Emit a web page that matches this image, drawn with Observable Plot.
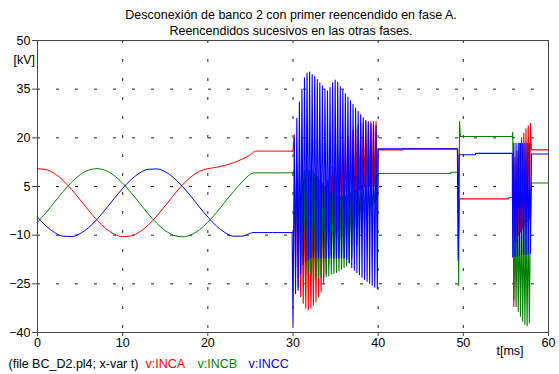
<!DOCTYPE html>
<html><head><meta charset="utf-8">
<script src="https://cdn.jsdelivr.net/npm/d3@7"></script>
<script src="https://cdn.jsdelivr.net/npm/@observablehq/plot@0.6"></script>
<style>body{margin:0;background:#fff} svg{display:block}</style>
</head><body><div id="chart"></div>
<script>
// ---- Text / ticks ----
const titleLines = ["Desconexión de banco 2 con primer reencendido en fase A.", "Reencendidos sucesivos en las otras fases."];
const captionFile = "(file BC_D2.pl4; x-var t)";
const seriesNames = ["v:INCA", "v:INCB", "v:INCC"];
const seriesColors = ["#ff0000", "#008000", "#0000ff"];
const xTicks = [0, 10, 20, 30, 40, 50, 60];
const yTicks = [-40, -25, -10, 5, 20, 35, 50];
const yUnit = "[kV]";
const xUnit = "t[ms]";

// ---- Pre-fault sinusoidal section (t in ms, values in kV) ----
const tSmooth = [0,1,2,3,4,5,6,7,8,9,10,11,12,13,14,15,16,17,18,19,20,21,22,23,24,25];
const redSmooth = [10.46,10.23,9.00,6.89,4.10,0.92,-2.36,-5.41,-7.92,-9.67,-10.46,-10.23,-9.00,-6.89,-4.10,-0.92,2.36,5.41,7.92,9.67,10.5,10.9,11.5,12.3,13.4,14.8];
const greenSmooth = [-6.02,-3.07,0.18,3.42,6.32,8.60,10.04,10.50,9.93,8.39,6.02,3.07,-0.18,-3.42,-6.32,-8.60,-10.04,-10.50,-9.93,-8.39,-6.02,-3.07,0.18,3.42,6.32,8.8];
const blueSmooth = [-4.44,-7.16,-9.18,-10.31,-10.42,-9.52,-7.68,-5.09,-2.00,1.28,4.44,7.16,9.18,10.31,10.42,9.52,7.68,5.09,2.00,-1.28,-4.44,-7.16,-9.18,-10.31,-10.3,-9.4];
const redHoldT = [25.6, 29.9], redHoldV = [15.9, 15.9];
const greenHoldT = [25.4, 29.9], greenHoldV = [9.2, 9.2];
const blueHoldT = [25.3, 29.9], blueHoldV = [-9.2, -9.2];

// ---- First re-strike burst (30–40 ms) ----
const b1T = [30.0,30.15,30.3,30.45,30.6,30.75,30.9,31.05,31.2,31.35,31.5,31.65,31.8,31.95,32.1,32.25,32.4,32.55,32.7,32.85,33.0,33.15,33.3,33.45,33.6,33.75,33.9,34.05,34.2,34.35,34.5,34.65,34.8,34.95,35.1,35.25,35.4,35.55,35.7,35.85,36.0,36.15,36.3,36.45,36.6,36.75,36.9,37.05,37.2,37.35,37.5,37.65,37.8,37.95,38.1,38.25,38.4,38.55,38.7,38.85,39.0,39.15,39.3,39.45,39.6,39.75,39.9];
const b1Red = [15.9,21,-20,12,-26,6,-29,2,-31,0,-32.5,-1,-33,-2,-32.5,-2,-31.5,-1,-30.5,0,-29,1,-27.5,3,-25,5,-22,7,-19,9,-16,11,-13,13,-10,15,-8,17,-6,18,-4,19.5,-2,20.5,0,21.5,1,22.5,2,23.3,3,24,4,24.5,4.5,24.8,5,25,5,25,5,25,5,25,5,25,5];
const b1Green = [9.2,10,-10,9,-14,9,-17,10,-19,10,-20.5,10,-21.5,10,-22,10,-22.5,9,-23,8,-23,7,-23,6,-23,5,-22.8,4,-22.5,3.5,-22,3,-21.8,2.5,-21.5,2,-21,2,-20.5,2,-20,2,-19.5,2.5,-18.5,3,-17,3.5,-15,4,-13,4.5,-11,5,-9,5,-7,5,-5,5,-3,5,-1.5,5,0,5,0.8];
const b1Blue = [-37.6,20,-28,26,-27,31,-22,35,-19,38.5,-18,40,-17.5,40.3,-17,39.5,-17,39,-17,38,-17,37,-17,36,-17,35,-17,34.5,-17,35.5,-17,37,-17,37.8,-17,37.2,-17,35.8,-17,34.8,-17,33.6,-17.5,32.6,-18.5,31.4,-20,30.3,-20.8,29.2,-21.5,28.2,-22.2,27.2,-23,26.2,-23.6,25.3,-24.2,24.7,-24.8,24.3,-25.4,24.0,-26,23.7,-26.4];

// ---- Between bursts (incl. spike near 49 ms) ----
const redMidT = [40.0,42.9,42.95,49.35,49.45,49.55,55.3,55.35,55.75];
const redMidV = [16.3,16.3,16.6,16.6,-10.6,1.2,1.2,1.6,1.6];
const greenMidT = [40.0,48.5,48.55,49.35,49.45,49.55,49.65,55.75];
const greenMidV = [9.0,9.0,9.4,9.4,-25.4,25.0,20.4,20.4];
const blueMidT = [40.0,49.3,49.4,49.5,51.4,51.45,55.75];
const blueMidV = [16.6,16.6,-17.7,14.8,14.8,15.2,15.2];

// ---- Second burst (≈56–58 ms) ----
const b2T = [55.8,55.93,56.06,56.19,56.32,56.45,56.58,56.71,56.84,56.97,57.1,57.23,57.36,57.49,57.62,57.75,57.88];
const b2Red = [12,-32,14,-12,16,-10,18.3,-9,20,-8,21.5,-7,22.8,-6,23.7,-5,24.4];
const b2Green = [21.7,-30,-5,-32,-5,-33.5,-5,-35,-5,-36.5,-5,-37.5,-5,-38,-5,-37,-5];
const b2Blue = [-16.7,18.3,-16.6,18.3,-16.4,18.3,-16.3,18.3,-16.1,18.3,-16.0,18.3,-15.9,18.3,-15.8,18.3,-15.6];

// ---- Final levels ----
const endT = [58.0, 60];
const redEndV = [16.3, 16.3];
const greenEndV = [6.1, 6.1];
const blueEndV = [15.0, 15.0];

// ---- Build tables ----
const rows = (ts, vs) => ts.map((t, i) => ({t, v: vs[i]}));
const smooth = [
  [...rows(tSmooth, redSmooth), ...rows(redHoldT, redHoldV)],
  [...rows(tSmooth, greenSmooth), ...rows(greenHoldT, greenHoldV)],
  [...rows(tSmooth, blueSmooth), ...rows(blueHoldT, blueHoldV)]
];
const linear = [
  [...rows([redHoldT[1]], [redHoldV[1]]), ...rows(b1T, b1Red), ...rows(redMidT, redMidV), ...rows(b2T, b2Red), ...rows(endT, redEndV)],
  [...rows([greenHoldT[1]], [greenHoldV[1]]), ...rows(b1T, b1Green), ...rows(greenMidT, greenMidV), ...rows(b2T, b2Green), ...rows(endT, greenEndV)],
  [...rows([blueHoldT[1]], [blueHoldV[1]]), ...rows(b1T, b1Blue), ...rows(blueMidT, blueMidV), ...rows(b2T, b2Blue), ...rows(endT, blueEndV)]
];

const lineMarks = [];
for (let i = 0; i < 3; i++) {
  lineMarks.push(Plot.line(smooth[i], {x: "t", y: "v", stroke: seriesColors[i], strokeWidth: 1, curve: "monotone-x"}));
  lineMarks.push(Plot.line(linear[i], {x: "t", y: "v", stroke: seriesColors[i], strokeWidth: 1.1}));
}

const fs = 12.5;
const captionDx = [108, 160, 211];
const chart = Plot.plot({
  width: 559, height: 374,
  marginLeft: 37, marginRight: 11, marginTop: 40, marginBottom: 42,
  style: {fontFamily: "'Liberation Sans', Arial, sans-serif", fontSize: fs + "px", background: "#fff", color: "#000"},
  x: {domain: [0, 60]},
  y: {domain: [-40, 50]},
  marks: [
    Plot.gridX(xTicks.slice(1, -1), {stroke: "#222", strokeOpacity: 1, strokeWidth: 1, strokeDasharray: "3,16"}),
    Plot.gridY(yTicks.slice(1, -1), {stroke: "#222", strokeOpacity: 1, strokeWidth: 1, strokeDasharray: "3,16"}),
    ...lineMarks,
    Plot.frame({stroke: "#444", strokeWidth: 1}),
    Plot.axisX(xTicks, {tickSize: 4, tickPadding: 2, label: null, fontSize: fs, stroke: "#444"}),
    Plot.axisY(yTicks, {tickSize: 5, tickPadding: 2, label: null, fontSize: fs, stroke: "#444"}),
    Plot.text([titleLines[0]], {text: d => d, frameAnchor: "top", dx: -2, dy: -30, fontSize: fs}),
    Plot.text([titleLines[1]], {text: d => d, frameAnchor: "top", dx: -2, dy: -14, fontSize: fs}),
    Plot.text([yUnit], {text: d => d, frameAnchor: "top-left", dx: -24, dy: 15, textAnchor: "start", fontSize: fs}),
    Plot.text([xUnit], {text: d => d, frameAnchor: "bottom-right", dx: -52, dy: 22, textAnchor: "start", fontSize: fs}),
    Plot.text([captionFile], {text: d => d, frameAnchor: "bottom-left", dx: -29, dy: 35, textAnchor: "start", fontSize: fs}),
    ...seriesNames.map((n, i) => Plot.text([n], {text: d => d, frameAnchor: "bottom-left", dx: captionDx[i], dy: 35, textAnchor: "start", fill: seriesColors[i], fontSize: fs}))
  ]
});
document.getElementById("chart").appendChild(chart);
</script>
</body></html>
